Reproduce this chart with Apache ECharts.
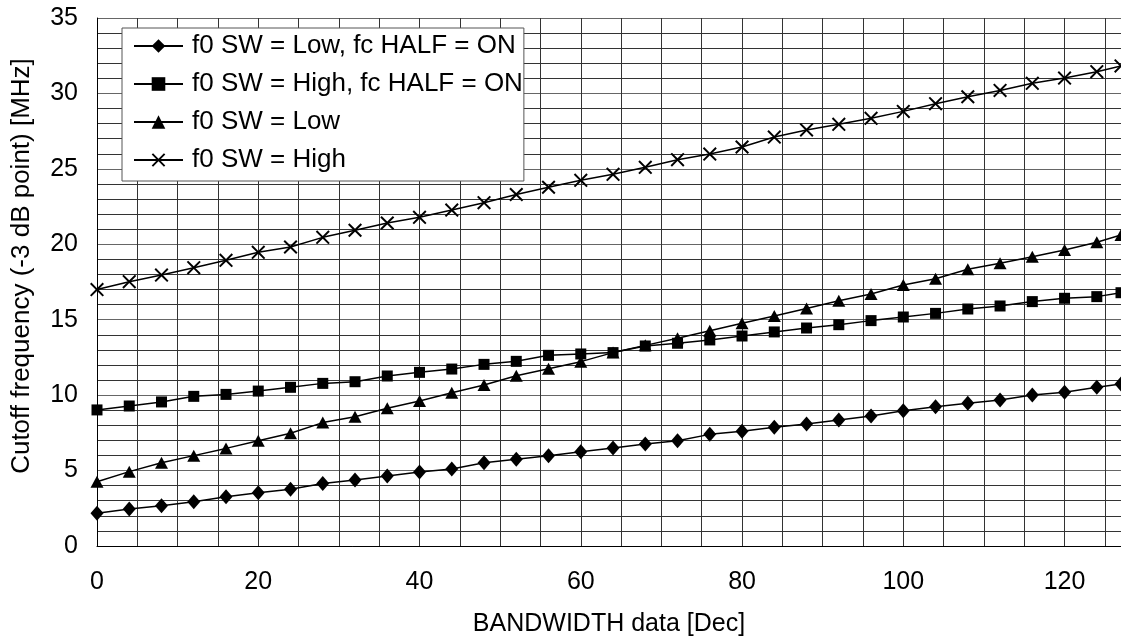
<!DOCTYPE html>
<html>
<head>
<meta charset="utf-8">
<script src="https://cdn.jsdelivr.net/npm/echarts@6/dist/echarts.min.js"></script>
<style>
html,body{margin:0;padding:0;background:#fff;}
#c{width:1121px;height:643px;}
</style>
</head>
<body>
<div id="c"></div>
<script>
const xValues = [0,4,8,12,16,20,24,28,32,36,40,44,48,52,56,60,64,68,72,76,80,84,88,92,96,100,104,108,112,116,120,124,127];
const lowHalfOn = [2.17,2.45,2.67,2.94,3.27,3.53,3.76,4.15,4.37,4.64,4.91,5.10,5.52,5.75,5.99,6.25,6.50,6.76,6.98,7.40,7.60,7.87,8.09,8.35,8.62,8.97,9.23,9.46,9.68,10.01,10.19,10.52,10.74];
const highHalfOn = [9.02,9.28,9.55,9.92,10.05,10.27,10.52,10.78,10.89,11.27,11.51,11.73,12.04,12.24,12.64,12.73,12.82,13.26,13.44,13.66,13.92,14.19,14.45,14.67,14.94,15.18,15.42,15.71,15.91,16.20,16.42,16.53,16.79];
const lowOnly = [4.26,4.93,5.52,5.99,6.47,6.98,7.47,8.18,8.57,9.13,9.61,10.16,10.67,11.29,11.75,12.22,12.82,13.30,13.77,14.27,14.76,15.25,15.75,16.26,16.70,17.30,17.72,18.34,18.74,19.18,19.62,20.13,20.62];
const highOnly = [17.00,17.52,17.96,18.45,18.94,19.47,19.82,20.46,20.93,21.41,21.79,22.27,22.76,23.30,23.78,24.24,24.64,25.10,25.61,25.98,26.45,27.11,27.58,27.95,28.35,28.81,29.32,29.78,30.20,30.67,31.02,31.44,31.82];
const seriesNames = ['f0 SW = Low, fc HALF = ON','f0 SW = High, fc HALF = ON','f0 SW = Low','f0 SW = High'];
const xTitle = 'BANDWIDTH data [Dec]';
const yTitle = 'Cutoff frequency (-3 dB point) [MHz]';
const xLabelStep = 20;

const FONT = '"Liberation Sans", Arial, sans-serif';
const crossPath = 'path://M0,1 L1,0 L5,4 L9,0 L10,1 L6,5 L10,9 L9,10 L5,6 L1,10 L0,9 L4,5 Z';

function pairs(ys){ return xValues.map((x,i)=>[x, ys[i]]); }
function mk(name, ys, symbol, size){
  return {
    name: name, type: 'line', data: pairs(ys),
    symbol: symbol, symbolSize: size, showAllSymbol: true,
    itemStyle: {color: '#000'},
    lineStyle: {color: '#000', width: 1.5},
    emphasis: {disabled: true},
    animation: false, z: 5
  };
}

const chart = echarts.init(document.getElementById('c'), null, {renderer: 'canvas'});
chart.setOption({
  animation: false,
  backgroundColor: '#fff',
  grid: {left: 97, top: 18, right: -1, bottom: 97, containLabel: false},
  legend: {
    orient: 'vertical', left: 122, top: 28,
    padding: [3, 1, 6, 11], itemGap: 8,
    itemWidth: 49, itemHeight: 17,
    borderColor: '#555', borderWidth: 1, backgroundColor: '#fff',
    textStyle: {fontFamily: FONT, fontSize: 26, color: '#000', lineHeight: 30, padding: [0,0,0,4]},
    data: seriesNames, z: 10
  },
  graphic: [{
    type: 'text', x: 22, y: 266, rotation: Math.PI / 2,
    style: {text: yTitle, font: '26px ' + FONT, fill: '#000', align: 'center', verticalAlign: 'middle'}
  }],
  xAxis: {
    type: 'value', min: 0, max: 127, interval: 5,
    name: xTitle, nameLocation: 'middle', nameGap: 66,
    nameTextStyle: {fontFamily: FONT, fontSize: 25, color: '#000'},
    axisLine: {show: true, lineStyle: {color: '#000', width: 1}},
    axisTick: {show: false},
    axisLabel: {fontFamily: FONT, fontSize: 25, color: '#000', margin: 24, showMaxLabel: false,
      formatter: v => (v % xLabelStep === 0 ? String(v) : '')},
    splitLine: {show: true, lineStyle: {color: '#333', width: 1}}
  },
  yAxis: {
    type: 'value', min: 0, max: 35, interval: 5,
    axisLine: {show: true, lineStyle: {color: '#000', width: 1}},
    axisTick: {show: false},
    axisLabel: {fontFamily: FONT, fontSize: 25, color: '#000', margin: 19},
    splitLine: {show: true, lineStyle: {color: '#666', width: 1}},
    minorTick: {show: false, splitNumber: 5},
    minorSplitLine: {show: true, lineStyle: {color: '#333', width: 1}}
  },
  series: [
    mk(seriesNames[0], lowHalfOn, 'diamond', [13, 15]),
    mk(seriesNames[1], highHalfOn, 'rect', 11),
    mk(seriesNames[2], lowOnly, 'triangle', [13, 12]),
    mk(seriesNames[3], highOnly, crossPath, 14)
  ]
});
</script>
</body>
</html>
